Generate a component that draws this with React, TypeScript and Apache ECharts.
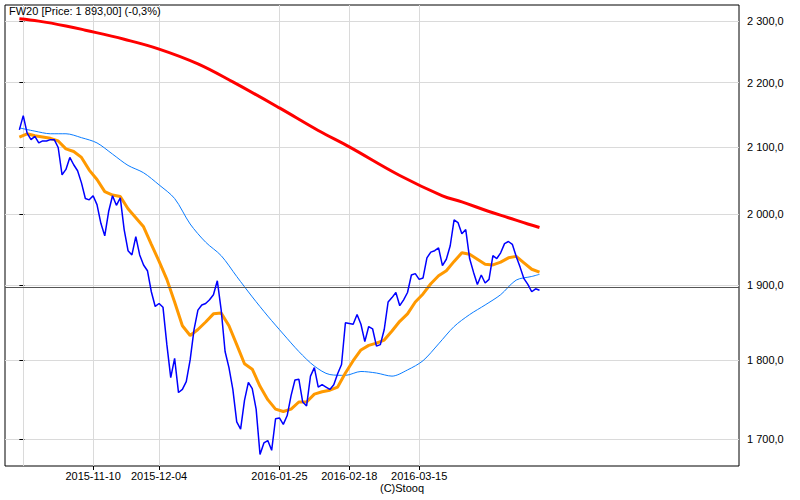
import React, { useEffect, useRef } from "react";
import * as echarts from "echarts";

// Trading days (Warsaw exchange), grouped by month
const tradingDays: [string, number[]][] = [
  ["2015-10", [14, 15, 16, 19, 20, 21, 22, 23, 26, 27, 28, 29, 30]],
  ["2015-11", [2, 3, 4, 5, 6, 9, 10, 12, 13, 16, 17, 18, 19, 20, 23, 24, 25, 26, 27, 30]],
  ["2015-12", [1, 2, 3, 4, 7, 8, 9, 10, 11, 14, 15, 16, 17, 18, 21, 22, 23, 28, 29, 30]],
  ["2016-01", [4, 5, 7, 8, 11, 12, 13, 14, 15, 18, 19, 20, 21, 22, 25, 26, 27, 28, 29]],
  ["2016-02", [1, 2, 3, 4, 5, 8, 9, 10, 11, 12, 15, 16, 17, 18, 19, 22, 23, 24, 25, 26, 29]],
  ["2016-03", [1, 2, 3, 4, 7, 8, 9, 10, 11, 14, 15, 16, 17, 18, 21, 22, 23, 24, 29, 30, 31]],
  ["2016-04", [1, 4, 5, 6, 7, 8, 11, 12, 13, 14, 15, 18, 19, 20, 21, 22, 25, 26, 27, 28, 29]],
];
const dates: string[] = tradingDays.flatMap(([m, ds]) =>
  ds.map((d) => `${m}-${String(d).padStart(2, "0")}`)
);

// FW20 closing prices, one per trading day
const price = [
  2126, 2148, 2121, 2111, 2116, 2106, 2109, 2109, 2111, 2111,
  2099, 2058, 2066, 2084, 2073, 2064, 2046, 2023, 2021, 2027,
  2014, 1987, 1969, 2004, 2027, 2013, 2024, 1978, 1948, 1942,
  1968, 1942, 1928, 1920, 1891, 1871, 1875, 1870, 1820, 1777,
  1802, 1758, 1762, 1772, 1800, 1840, 1866, 1873, 1875, 1880,
  1887, 1906, 1866, 1811, 1790, 1762, 1721, 1712, 1748, 1771,
  1763, 1737, 1681, 1695, 1698, 1686, 1725, 1726, 1718, 1729,
  1754, 1774, 1775, 1746, 1741, 1779, 1790, 1765, 1768, 1765,
  1762, 1768, 1782, 1794, 1849, 1848, 1847, 1860, 1847, 1824,
  1844, 1841, 1818, 1820, 1840, 1877, 1883, 1890, 1872, 1880,
  1890, 1914, 1916, 1908, 1910, 1938, 1946, 1948, 1952, 1927,
  1936, 1955, 1992, 1988, 1972, 1978, 1937, 1918, 1901, 1914,
  1903, 1908, 1941, 1937, 1945, 1958, 1961, 1957, 1940, 1925,
  1909, 1901, 1891, 1895, 1893,
];

// Moving averages: [trading-day index, value]
const maFast: [number, number][] = [
  [0, 2115], [2, 2120], [4, 2117], [6, 2115], [8, 2113], [10, 2109], [12, 2097],
  [14, 2093], [16, 2084], [18, 2065], [20, 2051], [22, 2033], [24, 2028], [26, 2026],
  [28, 2008], [30, 1995], [32, 1982], [34, 1957], [36, 1933], [38, 1908], [40, 1877],
  [42, 1845], [44, 1832], [46, 1840], [48, 1850], [50, 1861], [52, 1862], [54, 1845],
  [56, 1820], [58, 1795], [60, 1788], [62, 1766], [64, 1749], [66, 1737], [68, 1734],
  [70, 1737], [72, 1746], [74, 1746], [76, 1756], [78, 1759], [80, 1761], [82, 1765],
  [84, 1783], [86, 1799], [88, 1813], [90, 1819], [92, 1822], [94, 1826], [96, 1838],
  [98, 1851], [100, 1861], [102, 1877], [104, 1888], [106, 1902], [108, 1913],
  [110, 1920], [112, 1933], [114, 1945], [116, 1943], [118, 1936], [120, 1929],
  [122, 1928], [124, 1932], [126, 1938], [128, 1940], [130, 1931], [132, 1922], [134, 1918],
];
const maMid: [number, number][] = [
  [0, 2129], [4, 2124], [8, 2120], [12, 2120], [16, 2114], [20, 2106], [24, 2089],
  [28, 2072], [32, 2061], [36, 2043], [40, 2023], [44, 1986], [48, 1960], [52, 1941],
  [56, 1912], [60, 1884], [64, 1858], [68, 1834], [72, 1811], [76, 1792], [80, 1781],
  [84, 1780], [88, 1785], [92, 1783], [96, 1779], [100, 1787], [104, 1799], [108, 1821],
  [112, 1844], [116, 1860], [120, 1873], [124, 1887], [128, 1907], [132, 1912], [134, 1915],
];
const maSlow: [number, number][] = [
  [0, 2304], [5, 2300], [12, 2292], [17, 2285], [27, 2270], [36, 2254], [46, 2230],
  [55, 2201], [67, 2160], [77, 2125], [85, 2100], [98, 2057], [109, 2027], [114, 2018],
  [121, 2004], [126, 1995], [131, 1986], [134, 1981],
];

const refLevel = 1897;
const yTicks = [1700, 1800, 1900, 2000, 2100, 2200, 2300];
const xLabelDates = ["2015-11-10", "2015-12-04", "2016-01-25", "2016-02-18", "2016-03-15"];
const xExtraGridDates = ["2015-10-15"]; // gridline whose label is clipped off
const titleText = "FW20 [Price: 1 893,00] (-0,3%)";
const creditText = "(C)Stooq";

const FONT = "Liberation Sans";
const GRID_COLOR = "#dadada";

function fmtPL(v: number): string {
  const [a, b] = v.toFixed(1).split(".");
  return a.replace(/\B(?=(\d{3})+(?!\d))/g, " ") + "," + b;
}

export default function App() {
  const ref = useRef<HTMLDivElement>(null);
  useEffect(() => {
    if (!ref.current) return;
    const chart = echarts.init(ref.current, undefined, { renderer: "svg" });
    const labelIdx = xLabelDates.map((d) => dates.indexOf(d));
    const extraIdx = xExtraGridDates.map((d) => dates.indexOf(d));
    chart.setOption({
      animation: false,
      backgroundColor: "#fff",
      title: {
        text: titleText,
        left: 9,
        top: 5,
        padding: 0,
        textStyle: { fontSize: 11, fontWeight: "normal", color: "#000", fontFamily: FONT },
      },
      graphic: [
        {
          type: "text",
          left: 380,
          top: 482,
          style: { text: creditText, fontSize: 11, lineHeight: 11, fill: "#000", fontFamily: FONT },
        },
      ],
      grid: {
        left: 5,
        top: 5,
        right: 61,
        bottom: 34,
        show: true,
        borderColor: "#000",
        borderWidth: 1,
        backgroundColor: "#fff",
        z: 0,
      },
      xAxis: {
        type: "value",
        min: -3.7,
        max: 185.4,
        axisLine: { show: false },
        axisTick: {
          show: true,
          customValues: labelIdx,
          length: 4,
          lineStyle: { color: "#000" },
        },
        axisLabel: {
          customValues: labelIdx,
          formatter: (v: number) => dates[Math.round(v)] ?? "",
          color: "#000",
          fontSize: 11,
          lineHeight: 11,
          fontFamily: FONT,
          margin: 4,
        },
        splitLine: { show: true, lineStyle: { color: GRID_COLOR, width: 1 } },
      },
      yAxis: {
        type: "log",
        position: "right",
        min: 1667,
        max: 2327,
        axisLine: { show: false },
        axisTick: {
          show: true,
          customValues: yTicks,
          length: 5,
          lineStyle: { color: "#000" },
        },
        axisLabel: {
          customValues: yTicks,
          formatter: (v: number) => fmtPL(v),
          color: "#000",
          fontSize: 11,
          fontFamily: FONT,
          margin: 8,
        },
        splitLine: { show: true, lineStyle: { color: GRID_COLOR, width: 1 } },
      },
      series: [
        {
          type: "line",
          name: "MA slow",
          data: maSlow,
          showSymbol: false,
          smooth: 0.4,
          lineStyle: { color: "#ff0000", width: 3 },
          z: 3,
          markLine: {
            silent: true,
            z: 1,
            symbol: "none",
            label: { show: false },
            lineStyle: { color: GRID_COLOR, width: 1, type: "solid" },
            data: extraIdx.map((i) => ({ xAxis: i })),
          },
        },
        {
          type: "line",
          name: "MA mid",
          data: maMid,
          showSymbol: false,
          smooth: 0.3,
          lineStyle: { color: "#0a7cff", width: 1 },
          z: 3,
        },
        {
          type: "line",
          name: "MA fast",
          data: maFast,
          showSymbol: false,
          lineStyle: { color: "#ff9900", width: 3 },
          z: 4,
        },
        {
          type: "line",
          name: "FW20",
          data: price.map((v, i) => [i, v]),
          showSymbol: false,
          lineStyle: { color: "#0000ff", width: 1.5 },
          z: 5,
          markLine: {
            silent: true,
            symbol: "none",
            label: { show: false },
            lineStyle: { color: "#555", width: 1, type: "solid" },
            data: [{ yAxis: refLevel }],
          },
        },
      ],
    });
    return () => chart.dispose();
  }, []);
  return (
    <div
      ref={ref}
      style={{ position: "absolute", left: 0, top: 0, width: 800, height: 500 }}
    />
  );
}
